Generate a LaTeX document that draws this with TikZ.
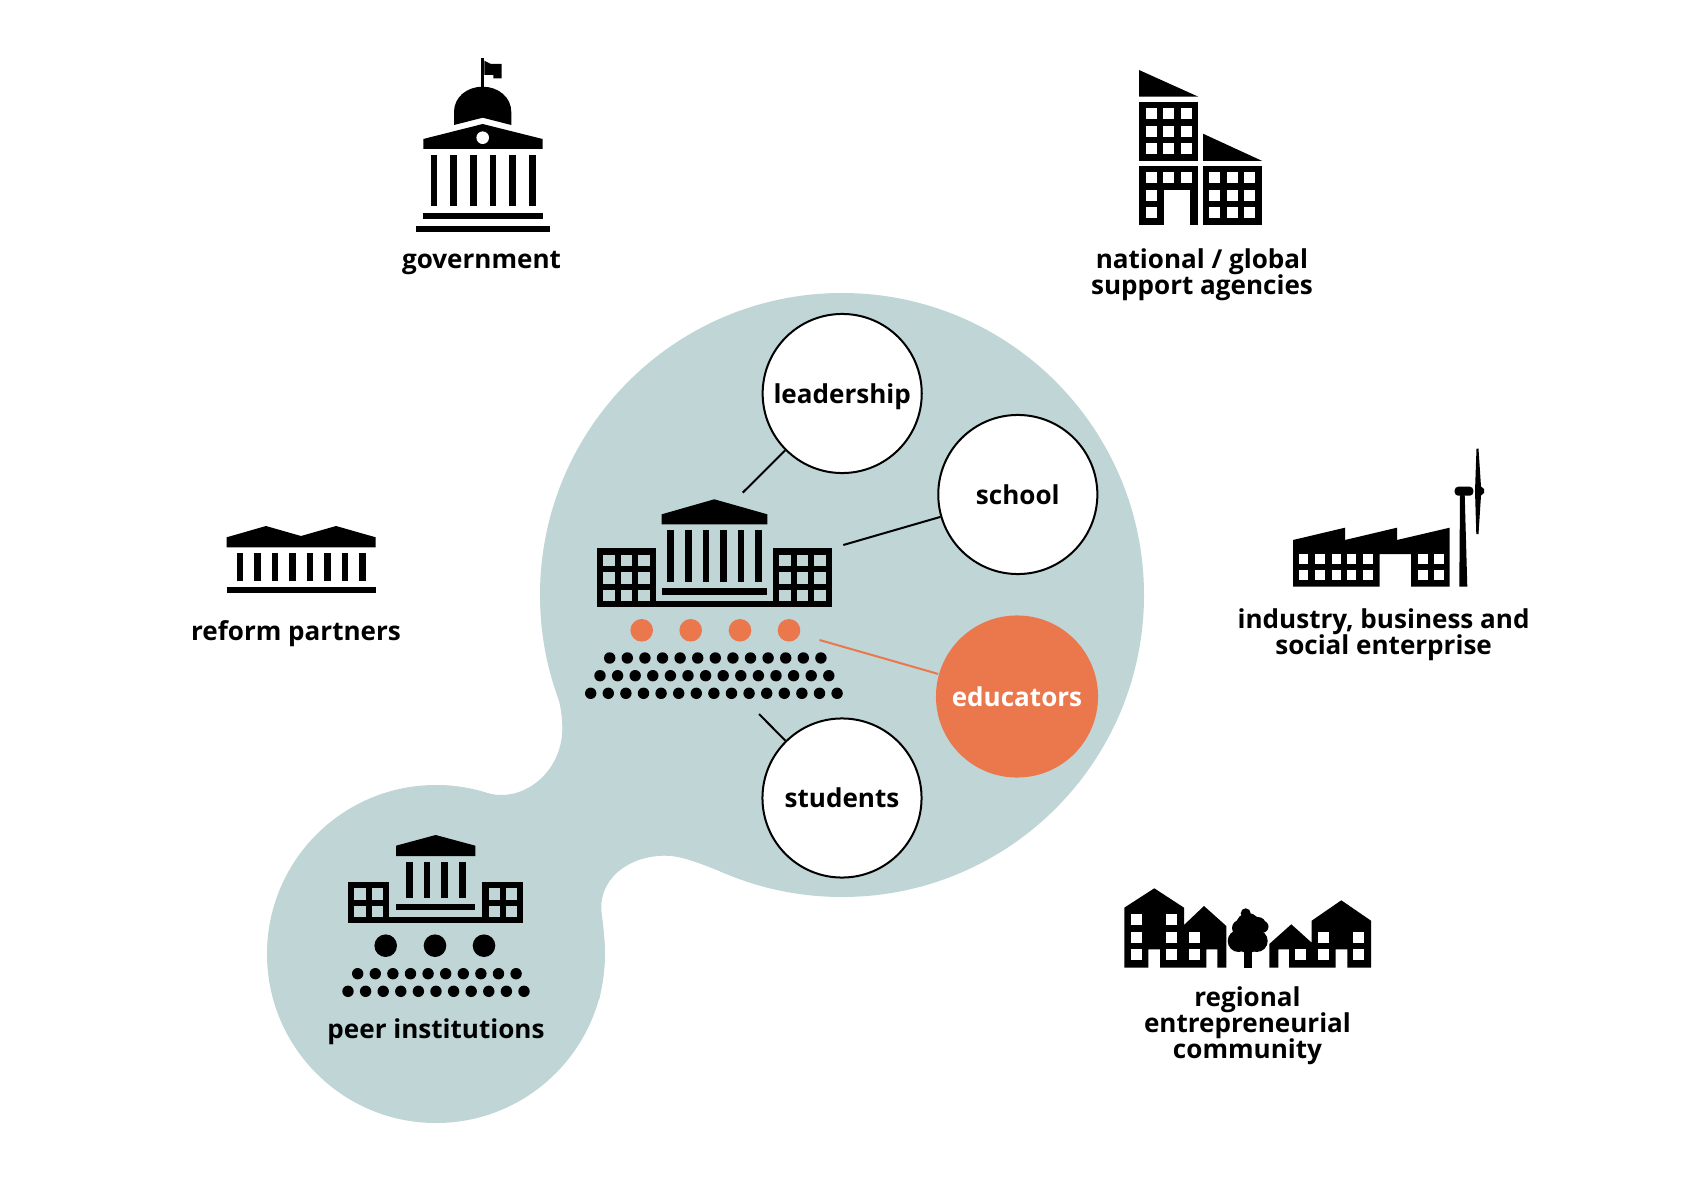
\documentclass[tikz,border=0pt]{standalone}
\usepackage{fontspec}
\setmainfont{Open Sans}
\definecolor{Blob}{HTML}{BFD5D6}
\definecolor{Coral}{HTML}{EB784C}
\newcommand{\panegrid}[4]{%
  \foreach \wx in {#1} {
    \foreach \wy in {#2} {
      \fill[#4] (\wx,\wy) rectangle ++(#3,#3);
    }
  }
}
\newcommand{\colonnade}[5]{%
  \foreach \k in {1,...,#1} {
    \fill (#2+#3*\k-#3,#4) rectangle ++(6.67,#5);
  }
}
\newcommand{\dotrow}[4]{%
  \foreach \k in {1,...,#1} {
    \fill (#2+17.6*\k-17.6,#3) circle (#4);
  }
}
\begin{document}
\begin{tikzpicture}[x=0.01cm,y=-0.01cm,
    caption/.style={font=\fontsize{7.41}{7.6}\selectfont\bfseries,align=center,text=black,inner sep=0pt},
    member/.style={circle,draw=black,line width=0.57pt,fill=white,minimum size=15.9mm,inner sep=0pt,text height=5.6pt,text depth=0pt,font=\fontsize{7.41}{7.6}\selectfont\bfseries}]
  \fill[white] (0,0) rectangle (1684,1191);
  \useasboundingbox (0,0) rectangle (1684,1191);

  \fill[Blob] (842,595) circle (302);
  \fill[Blob] (436,954) circle (169);
  \fill[Blob] (547.3,660) .. controls (555,685) and (562.3,705) .. (562.3,728.3)
    .. controls (562.3,767) and (532,795) .. (501.7,795)
    .. controls (485,795) and (470,786) .. (436,785)
    -- (599,1000) .. controls (605,975) and (606,945) .. (602,916)
    .. controls (596,880) and (628,855.7) .. (665,855.7)
    .. controls (690,855.7) and (715,872) .. (770,888.3) -- cycle;

  \fill (481,58.3) rectangle (484.3,87);
  \fill (484.3,60.7) -- (491,64) -- (501.7,64) -- (501.7,78.3) -- (493.3,78.3) -- (493.3,75) -- (484.3,75) -- cycle;
  \fill (454,125) -- (454,112) .. controls (454,97) and (467,86.7) .. (482.7,86.7) .. controls (498,86.7) and (511.3,97) .. (511.3,112) -- (511.3,125) -- (482.7,117.7) -- cycle;
  \fill (423.3,139) -- (482.7,124) -- (542.7,139) -- (542.7,149) -- (423.3,149) -- cycle;
  \fill[white] (482.7,137.7) circle (6.3);
  \colonnade{6}{430.7}{19.67}{155}{51}
  \fill (423.3,212.7) rectangle (542.7,219.3);
  \fill (416,225.7) rectangle (550,232.3);
  \node[caption] (government) at (481.5,263.3) {government};

  \fill (1139,70) -- (1198.3,96.7) -- (1139,96.7) -- cycle;
  \fill (1139,101.7) rectangle (1198.3,161);
  \panegrid{1145.7,1163,1180.7}{108.3,126,143.3}{11}{white}
  \fill (1139,165.7) rectangle (1198.3,225);
  \panegrid{1145.7,1163,1180.7}{172.3}{11}{white}
  \panegrid{1145.7}{189.7,207.3}{11}{white}
  \fill[white] (1164.3,190.3) rectangle (1190,225.5);
  \fill (1203,133.7) -- (1262.3,161) -- (1203,161) -- cycle;
  \fill (1203,165.7) rectangle (1262.3,225);
  \panegrid{1209.3,1227,1244.3}{172.3,189.7,207.3}{11}{white}
  \node[caption] (agencies) at (1202,275.2) {national / global\\[-0.2pt]support agencies};

  \fill (226.7,537.3) -- (266,526) -- (301,536) -- (336,526) -- (375.7,537.3) -- (375.7,547.3) -- (226.7,547.3) -- cycle;
  \colonnade{8}{236.7}{17.5}{553.3}{27.4}
  \fill (226.7,587.3) rectangle (375.7,593.3);
  \node[caption] (partners) at (296,633.7) {reform partners};

  \fill (1293,540) -- (1345,527.7) -- (1345,540) -- (1397,527.7) -- (1397,540) -- (1449.7,527.7) -- (1449.7,586.7) -- (1411,586.7) -- (1411,554) -- (1379.7,554) -- (1379.7,586.7) -- (1293,586.7) -- cycle;
  \panegrid{1298.7,1315,1331.7,1346.7,1363,1418,1434.3}{554,570.3}{9.5}{white}
  \fill (1460,495) -- (1464.7,495) -- (1467.3,586.7) -- (1459.3,586.7) -- cycle;
  \fill[rounded corners=1pt] (1454.7,486.7) rectangle (1473.3,495.7);
  \fill (1476.5,448.7) -- (1478.5,448.7) -- (1481,486.5) -- (1484,489) -- (1484,493) -- (1481,495.5) -- (1478.5,534) -- (1476.3,534) -- (1475,491) -- cycle;
  \node[caption] (industry) at (1383.6,635.2) {industry, business and\\[-0.2pt]social enterprise};

  \fill (1124.3,907.7) -- (1154.3,888.3) -- (1184,907.7) -- (1184,925) -- (1204,906) -- (1226.3,926) -- (1226.3,967.7) -- (1217.3,967.7) -- (1217.3,949.3) -- (1206.3,949.3) -- (1206.3,967.7) -- (1160,967.7) -- (1160,949.3) -- (1148.3,949.3) -- (1148.3,967.7) -- (1124.3,967.7) -- cycle;
  \panegrid{1131.3,1166.3}{914.3,932,949.3}{11}{white}
  \panegrid{1189}{932,949.3}{11}{white}
  \fill (1269.3,944) -- (1291.3,924.3) -- (1311.7,942.7) -- (1311.7,920.7) -- (1341.3,900.3) -- (1371,920.7) -- (1371,967.7) -- (1347.3,967.7) -- (1347.3,949.3) -- (1335.7,949.3) -- (1335.7,967.7) -- (1289,967.7) -- (1289,949.3) -- (1278.3,949.3) -- (1278.3,967.7) -- (1269.3,967.7) -- cycle;
  \panegrid{1295.3}{949.3}{11}{white}
  \panegrid{1318,1353.3}{932,949.3}{11}{white}
  \fill (1243.7,945) rectangle (1252.3,967.7);
  \foreach \x/\y/\r in {1245.7/913.3/5, 1248/925/12, 1262.5/926.7/6, 1238.7/941/11, 1256.7/941/11, 1248/940/13, 1258/925/8, 1240/928/8} {
    \fill (\x,\y) circle (\r);
  }
  \node[caption] (community) at (1247.5,1025.7) {regional\\[-0.2pt]entrepreneurial\\[-0.2pt]community};

  \fill (661.7,514.3) -- (714.3,499.3) -- (767.3,514.3) -- (767.3,524.3) -- (661.7,524.3) -- cycle;
  \colonnade{6}{667.3}{17.6}{530.3}{51.7}
  \fill (661.7,588) rectangle (767.3,594.7);
  \fill (597,548) rectangle (656.3,607.3);
  \fill (773,548) rectangle (832.3,607.3);
  \fill (656.3,600.7) rectangle (773,607.3);
  \panegrid{603.3,621,638.3,779.3,797,814.3}{554.7,572.3,590}{11.2}{Blob}
  \foreach \x in {641.7,690.7,740,789} {
    \fill[Coral] (\x,630.3) circle (11.3);
  }
  \dotrow{13}{609.7}{658}{5.7}
  \dotrow{14}{600}{675.7}{5.7}
  \dotrow{15}{590.7}{693.3}{5.7}

  \node[member] (leadership) at (842.2,393.5) {leadership};
  \node[member] (school) at (1017.8,494.5) {school};
  \node[member,draw=none,fill=Coral,text=white,minimum size=16.2mm] (educators) at (1017,696.5) {educators};
  \node[member] (students) at (842,798) {students};
  \coordinate (leadershipend) at (742.7,492.7);
  \coordinate (schoolend) at (843.3,545);
  \coordinate (educatorsend) at (819.5,640);
  \coordinate (studentsend) at (759,714);
  \draw[line width=0.57pt] (leadershipend) -- (leadership);
  \draw[line width=0.57pt] (schoolend) -- (school);
  \draw[Coral,line width=0.57pt] (educatorsend) -- (educators);
  \draw[line width=0.57pt] (studentsend) -- (students);

  \fill (396,845.7) -- (435.7,835) -- (475.3,845.7) -- (475.3,856) -- (396,856) -- cycle;
  \colonnade{4}{406}{17.65}{862}{35.7}
  \fill (396,903.7) rectangle (475.3,910.3);
  \fill (348,881.7) rectangle (389.3,922.7);
  \fill (482.3,881.7) rectangle (523.3,922.7);
  \fill (389.3,916.7) rectangle (482.3,922.7);
  \panegrid{354.3,371.7,488.7,506}{888.3,905.7}{11.2}{Blob}
  \foreach \x in {385.7,435,484} {
    \fill (\x,945.7) circle (11.3);
  }
  \dotrow{10}{357.7}{973.7}{5.7}
  \dotrow{11}{348}{991.3}{5.7}
  \node[caption] (peers) at (436,1032) {peer institutions};
\end{tikzpicture}
\end{document}
